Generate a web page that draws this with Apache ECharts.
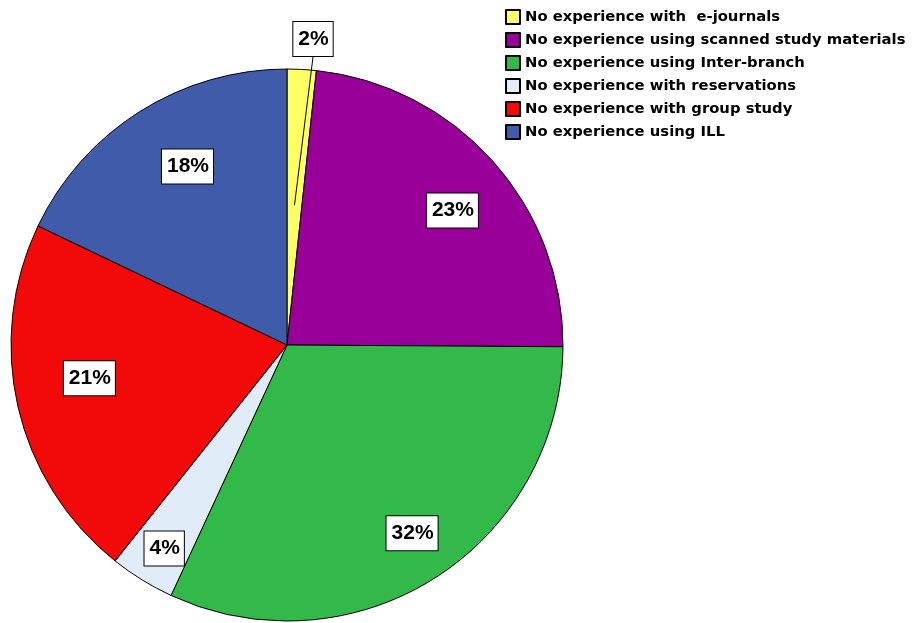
<!DOCTYPE html>
<html>
<head>
<meta charset="utf-8">
<script src="https://cdn.jsdelivr.net/npm/echarts@6/dist/echarts.min.js"></script>
<style>
  html, body { margin: 0; padding: 0; background: #ffffff; }
  #chart { width: 915px; height: 623px; }
</style>
</head>
<body>
<div id="chart"></div>
<script>
// Share of respondents per kind of missing library experience (percent)
const categories = [
  'No experience with  e-journals',
  'No experience using scanned study materials',
  'No experience using Inter-branch',
  'No experience with reservations',
  'No experience with group study',
  'No experience using ILL'
];
const shares = [1.7, 23.4, 31.8, 3.8, 21.4, 17.9];
const sliceColors = ['#FFFF66', '#990099', '#33B84A', '#E1ECF9', '#F20A0A', '#3F5BAA'];

const CX = 287, CY = 345, R = 276;
const FONT = '"Liberation Sans", Arial, sans-serif';

// small nudges of the boxed labels away from the slice mid-line
const labelNudge = [[0, 0], [8, 6], [12, 10], [-12, 24], [8, -14], [13, 0]];

const pieData = categories.map((name, i) => ({ name, value: shares[i] }));

const boxLabel = {
  color: '#000',
  fontFamily: FONT,
  fontWeight: 'bold',
  fontSize: 21,
  backgroundColor: '#ffffff',
  borderColor: '#000000',
  borderWidth: 1,
  padding: [7, 4, 6, 5],
  formatter: p => Math.round(p.value) + '%'
};

const chart = echarts.init(document.getElementById('chart'), null, { renderer: 'canvas' });

chart.setOption({
  animation: false,
  backgroundColor: '#ffffff',
  color: sliceColors,
  legend: {
    orient: 'vertical',
    left: 500,
    top: 4,
    itemWidth: 14,
    itemHeight: 14,
    itemGap: 7,
    icon: 'rect',
    selectedMode: false,
    data: categories,
    textStyle: { fontFamily: '"DejaVu Sans", sans-serif', fontWeight: 'bold', fontSize: 14.8, color: '#000' }
  },
  series: [
    {
      // the slices
      type: 'pie',
      center: [CX, CY],
      radius: R,
      startAngle: 90,
      clockwise: true,
      silent: true,
      label: { show: false },
      labelLine: { show: false },
      itemStyle: { borderColor: '#000', borderWidth: 1 },
      emphasis: { disabled: true },
      data: pieData
    },
    {
      // boxed percentages inside the wider slices
      type: 'pie',
      z: 3,
      center: [CX, CY],
      radius: [170, 246],
      startAngle: 90,
      clockwise: true,
      silent: true,
      legendHoverLink: false,
      itemStyle: { color: 'rgba(0,0,0,0)', borderWidth: 0 },
      emphasis: { disabled: true },
      label: Object.assign({ position: 'inside' }, boxLabel),
      labelLine: { show: false },
      labelLayout: p => ({ dx: labelNudge[p.dataIndex][0], dy: labelNudge[p.dataIndex][1] }),
      data: pieData.map((d, i) => Object.assign({}, d, { label: { show: i !== 0 } }))
    },
    {
      // leader line for the thin first slice
      type: 'pie',
      z: 4,
      center: [CX, CY],
      radius: 140,
      startAngle: 90,
      clockwise: true,
      silent: true,
      legendHoverLink: false,
      itemStyle: { color: 'rgba(0,0,0,0)', borderWidth: 0 },
      emphasis: { disabled: true },
      label: Object.assign({ position: 'outside' }, boxLabel),
      labelLine: { show: true, length: 140, length2: 0, lineStyle: { color: '#000', width: 1 } },
      labelLayout: () => ({ x: CX + 26, y: 39, align: 'center', verticalAlign: 'middle' }),
      data: pieData.map((d, i) => Object.assign({}, d, {
        label: { show: i === 0 },
        labelLine: { show: i === 0 }
      }))
    }
  ]
});
</script>
</body>
</html>
